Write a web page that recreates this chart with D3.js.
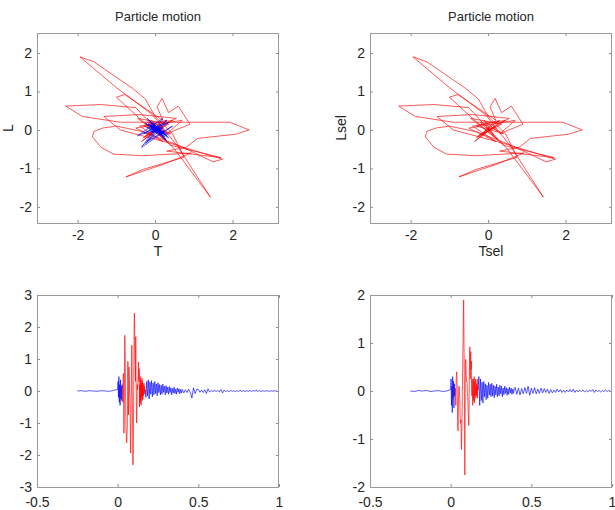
<!DOCTYPE html>
<html>
<head>
<meta charset="utf-8">
<script src="https://cdn.jsdelivr.net/npm/d3@7"></script>
<style>
body { margin: 0; background: #fff; }
svg { display: block; font-family: "Liberation Sans", Arial, sans-serif; }
.axis path.domain { display: none; }
.axis line { stroke: #8c8c8c; }
.axis text { fill: #262626; font-size: 14px; }
.frame { fill: none; stroke: #9a9a9a; }
.title { font-size: 13px; fill: #262626; text-anchor: middle; }
.label { font-size: 14px; fill: #262626; text-anchor: middle; }
.trace { fill: none; stroke-width: 1; stroke-linejoin: round; stroke-opacity: 0.65; }
</style>
</head>
<body>
<svg width="615" height="510"></svg>
<script>
// ---- data: two components (T, L) sampled in pieces, start time + step ----
// quiet part before the arrival
var quietStart = -0.25, quietStep = 0.025;
var quietT = [0.00, 0.01, -0.01, 0.01, 0.00, -0.01, 0.01, 0.00, -0.01, 0.02];
var quietL = [0.00, -0.01, 0.01, 0.00, 0.01, -0.01, 0.00, 0.01, -0.01, 0.00];

// first small onset
var onsetStart = 0.0, onsetStep = 0.0025;
var onsetT = [0.05, 0.30, -0.20, 0.45, -0.35, 0.20, -0.45, 0.35, -0.25, 0.15, -0.30, 0.20];
var onsetL = [0.03, 0.25, -0.30, 0.10, -0.45, 0.30, -0.15, 0.20, -0.35, 0.15, -0.10, 0.05];

// selected window (drawn red)
var selStart = 0.03, selStep = 0.00175;
var selT = [0.10, -0.35, 0.25, 0.55, -0.40, -1.32, -0.90, 0.40, 1.74, 1.50,
    0.60, -0.30, -1.00, -1.35, -1.58, -1.62, -1.40, -1.07, -0.32, 0.93,
    0.20, -0.75, -0.32, 0.75, 0.45, 0.00, -0.25, -0.58, -1.58, -1.94,
    -1.00, -0.06, 0.60, 1.43, 0.50, -0.50, -1.40, -2.31, -1.88, -0.90,
    0.50, 1.93, 2.43, 2.09, 1.10, 0.80, 0.30, 1.70, 0.40, -0.40,
    -1.00, -0.78, 0.20, 0.05, 0.18, 0.35, 0.60, 0.90, 0.30, 0.70,
    -0.50, 0.20, -0.40, 0.45, -0.30, 0.35, -0.45, 0.25, -0.20, 0.40,
    -0.30, 0.30, -0.25, 0.20, -0.15, 0.10, 0.25, -0.10, 0.15, -0.05,
    0.05];
var selL = [0.05, -0.30, 0.15, 0.30, 0.40, 0.35, 0.00, -0.35, -0.76, -0.83,
    -0.40, -0.05, 0.10, 0.05, -0.04, -0.18, -0.45, -0.63, -0.67, -0.60,
    -0.90, -1.22, -1.03, -0.71, -0.10, 0.35, 0.80, 1.08, 1.77, 1.90,
    1.10, 0.39, -0.45, -1.75, -0.50, 0.58, 0.66, 0.62, 0.35, 0.20,
    0.20, 0.20, 0.00, -0.11, -0.22, -0.45, -0.55, -0.72, -0.40, 0.30,
    0.85, 0.92, 0.25, 0.60, 0.82, 0.45, 0.62, 0.15, -0.10, 0.25,
    0.05, -0.30, 0.10, 0.25, -0.20, 0.15, 0.30, -0.25, 0.20, -0.10,
    0.10, 0.25, -0.15, 0.10, -0.10, 0.15, -0.05, 0.25, -0.15, 0.08,
    0.02];

// coda right after the window
var codaStart = 0.175, codaStep = 0.005;
var codaT = [-0.20, 0.30, -0.15, 0.35, -0.25, 0.28, -0.10, 0.32, -0.18, 0.25,
    -0.12, 0.30, -0.08, 0.22, -0.15, 0.26, -0.05, 0.20, -0.12, 0.18,
    -0.10, 0.22, -0.04, 0.15, -0.12, 0.17, -0.06, 0.12, -0.10, 0.14,
    -0.05, 0.10, -0.12, 0.08, -0.06, 0.12, -0.08, 0.06, -0.10, 0.09,
    -0.04, 0.07, -0.09, 0.05, -0.06];
var codaL = [0.30, -0.30, 0.25, -0.20, 0.18, -0.25, 0.20, -0.12, 0.15, -0.18,
    0.12, -0.15, 0.18, -0.08, 0.14, -0.12, 0.16, -0.10, 0.12, -0.14,
    0.10, -0.08, 0.14, -0.12, 0.08, -0.10, 0.12, -0.06, 0.10, -0.12,
    0.06, -0.08, 0.10, -0.05, 0.07, -0.09, 0.05, -0.07, 0.08, -0.04,
    0.06, -0.07, 0.04, -0.05, 0.06];

// late tail
var tailStart = 0.40, tailStep = 0.01;
var tailT = [0.05, -0.06, 0.04, -0.05, 0.06, -0.04, -0.22, 0.10, -0.08, 0.05,
    0.05, -0.04, 0.03, -0.05, 0.04, -0.08, 0.07, -0.03, 0.02, -0.03,
    0.03, -0.02, 0.02, -0.03, 0.05, -0.06, 0.03, -0.02, 0.01, -0.02,
    0.02, -0.01, 0.01, -0.02, 0.01, -0.01, 0.02, -0.01, 0.01, -0.02,
    0.01, -0.01, 0.02, -0.01, 0.01, 0.00, 0.02, -0.01, 0.01, -0.02,
    0.01, -0.01, 0.01, 0.00, -0.01, 0.01, -0.01, 0.01, 0.00, -0.01,
    0.00];
var tailL = [0.08, -0.07, 0.06, -0.08, 0.05, -0.06, 0.07, -0.05, 0.10, -0.09,
    0.06, -0.05, 0.07, -0.06, 0.04, -0.05, 0.06, -0.04, 0.05, -0.03,
    0.04, -0.05, 0.03, -0.04, 0.02, -0.03, 0.04, -0.02, 0.03, -0.03,
    0.02, -0.03, 0.02, -0.02, 0.03, -0.02, 0.04, -0.03, 0.02, -0.02,
    0.02, -0.01, 0.02, -0.02, 0.01, -0.02, 0.02, -0.01, 0.03, -0.03,
    0.02, -0.01, 0.01, -0.02, 0.01, -0.01, 0.02, -0.01, 0.01, -0.01,
    0.00];

// tick labels
var motionXTicks = [-2, 0, 2];
var motionYTicks = [-2, -1, 0, 1, 2];
var timeTicks = [-0.5, 0, 0.5, 1];
var tAmpTicks = [-3, -2, -1, 0, 1, 2, 3];
var lAmpTicks = [-2, -1, 0, 1, 2];

// ---- helpers ----
function sampleTimes(start, step, n) {
    var out = [];
    for (var i = 0; i < n; i++) out.push(start + i * step);
    return out;
}

function zip(xs, ys) {
    return xs.map(function (x, i) { return [x, ys[i]]; });
}

var selTime = sampleTimes(selStart, selStep, selT.length);
var preTime = sampleTimes(quietStart, quietStep, quietT.length)
    .concat(sampleTimes(onsetStart, onsetStep, onsetT.length), [selTime[0]]);
var postTime = [selTime[selTime.length - 1]]
    .concat(sampleTimes(codaStart, codaStep, codaT.length), sampleTimes(tailStart, tailStep, tailT.length));

var preT = quietT.concat(onsetT, [selT[0]]);
var preL = quietL.concat(onsetL, [selL[0]]);
var postT = [selT[selT.length - 1]].concat(codaT, tailT);
var postL = [selL[selL.length - 1]].concat(codaL, tailL);

var svg = d3.select('svg');
var fmt = function (d) { return String(d); };

function panel(opt) {
    var g = svg.append('g')
        .attr('transform', 'translate(' + [opt.left, opt.top] + ')');

    var x = d3.scaleLinear().domain(opt.xDomain).range([0, opt.w]);
    var y = d3.scaleLinear().domain(opt.yDomain).range([opt.h, 0]);
    var line = d3.line()
        .x(function (d) { return x(d[0]); })
        .y(function (d) { return y(d[1]); });

    opt.traces.forEach(function (tr) {
        g.append('path')
            .attr('class', 'trace')
            .attr('stroke', tr.color)
            .attr('d', line(tr.points));
    });

    // ticks inside on all four sides, labels only bottom / left
    g.append('g').attr('class', 'axis')
        .attr('transform', 'translate(0,' + opt.h + ')')
        .call(d3.axisBottom(x).tickValues(opt.xTicks).tickSize(-3).tickSizeOuter(0).tickPadding(opt.xPad).tickFormat(fmt));
    g.append('g').attr('class', 'axis')
        .call(d3.axisTop(x).tickValues(opt.xTicks).tickSize(-3).tickSizeOuter(0).tickFormat(''));
    g.append('g').attr('class', 'axis')
        .call(d3.axisLeft(y).tickValues(opt.yTicks).tickSize(-3).tickSizeOuter(0).tickPadding(5).tickFormat(fmt));
    g.append('g').attr('class', 'axis')
        .attr('transform', 'translate(' + opt.w + ',0)')
        .call(d3.axisRight(y).tickValues(opt.yTicks).tickSize(-3).tickSizeOuter(0).tickFormat(''));

    g.append('rect')
        .attr('class', 'frame')
        .attr('x', 0.5).attr('y', 0.5)
        .attr('width', opt.w - 1).attr('height', opt.h);

    if (opt.title) {
        g.append('text').attr('class', 'title')
            .attr('x', opt.w / 2).attr('y', -12)
            .text(opt.title);
    }
    if (opt.xLabel) {
        g.append('text').attr('class', 'label')
            .attr('x', opt.w / 2).attr('y', opt.h + 33)
            .text(opt.xLabel);
    }
    if (opt.yLabel) {
        g.append('text').attr('class', 'label')
            .attr('transform', 'translate(' + [-24, opt.h / 2] + ')rotate(-90)')
            .text(opt.yLabel);
    }
}

var motionX = [-3.05, 3.2], motionY = [-2.42, 2.52];

// particle motion, whole trace
panel({
    left: 37, top: 33, w: 242, h: 190, xPad: 7,
    xDomain: motionX, yDomain: motionY,
    xTicks: motionXTicks, yTicks: motionYTicks,
    title: 'Particle motion', xLabel: 'T', yLabel: 'L',
    traces: [
        { color: '#ff0000', points: zip(selT, selL) },
        { color: '#0000ff', points: zip(preT, preL) },
        { color: '#0000ff', points: zip(postT, postL) }
    ]
});

// particle motion, selected window only
panel({
    left: 370, top: 33, w: 242, h: 190, xPad: 7,
    xDomain: motionX, yDomain: motionY,
    xTicks: motionXTicks, yTicks: motionYTicks,
    title: 'Particle motion', xLabel: 'Tsel', yLabel: 'Lsel',
    traces: [
        { color: '#ff0000', points: zip(selT, selL) }
    ]
});

// T component against time
panel({
    left: 37, top: 295, w: 242, h: 192, xPad: 10,
    xDomain: [-0.5, 1], yDomain: [-3, 3],
    xTicks: timeTicks, yTicks: tAmpTicks,
    traces: [
        { color: '#0000ff', points: zip(preTime, preT) },
        { color: '#0000ff', points: zip(postTime, postT) },
        { color: '#ff0000', points: zip(selTime, selT) }
    ]
});

// L component against time
panel({
    left: 370, top: 295, w: 242, h: 192, xPad: 10,
    xDomain: [-0.5, 1], yDomain: [-2, 2],
    xTicks: timeTicks, yTicks: lAmpTicks,
    traces: [
        { color: '#0000ff', points: zip(preTime, preL) },
        { color: '#0000ff', points: zip(postTime, postL) },
        { color: '#ff0000', points: zip(selTime, selL) }
    ]
});
</script>
</body>
</html>
